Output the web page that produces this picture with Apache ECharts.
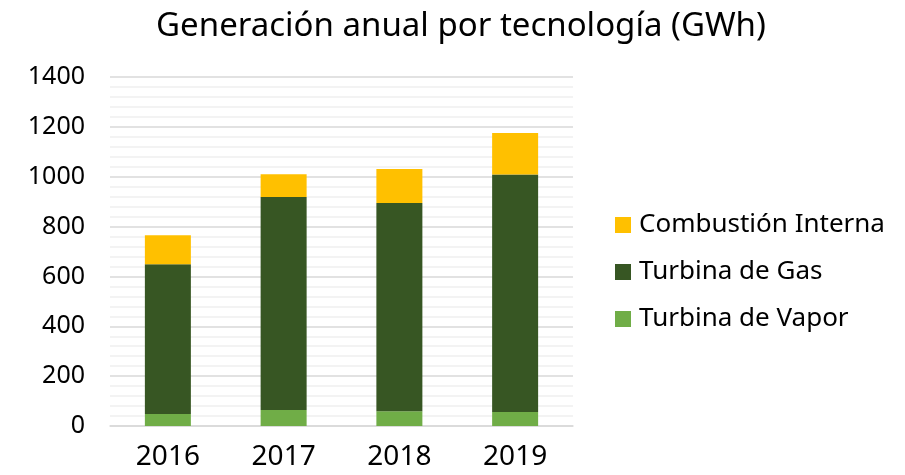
<!DOCTYPE html>
<html><head><meta charset="utf-8">
<script src="https://cdn.jsdelivr.net/npm/echarts@6/dist/echarts.min.js"></script>
<style>html,body{margin:0;padding:0;background:#fff}#c{width:905px;height:475px}</style>
</head><body><div id="c"></div>
<script>
const categories = ['2016','2017','2018','2019'];
const vapor = [48, 64, 59, 56];
const gas = [601, 855, 836, 953];
const combustion = [116, 91, 136, 166];
const yTicks = [0,200,400,600,800,1000,1200,1400];
const FONT = 'Noto Sans';
const chart = echarts.init(document.getElementById('c'));
chart.setOption({
  animation:false,
  title:{text:'Generación anual por tecnología (GWh)', left:456, textAlign:'center', top:5,
    textStyle:{fontFamily:FONT, fontSize:33, fontWeight:'normal', color:'#000'}},
  legend:{orient:'vertical', left:610, top:207, itemWidth:16, itemHeight:16, itemGap:21,
    icon:'rect', data:['Combustión Interna','Turbina de Gas','Turbina de Vapor'],
    textStyle:{fontFamily:FONT, fontSize:26, color:'#000', padding:[0,0,0,3]}},
  grid:{left:110, right:332, top:77, bottom:49},
  xAxis:{type:'category', data:categories, axisTick:{show:false},
    axisLine:{lineStyle:{color:'#d9d9d9', width:1.5}},
    axisLabel:{fontFamily:FONT, fontSize:28, color:'#000', margin:17}},
  yAxis:{type:'value', min:yTicks[0], max:yTicks[yTicks.length-1], interval:200,
    axisLabel:{fontFamily:FONT, fontSize:25, color:'#000', margin:25, formatter:v=>String(v)},
    splitLine:{lineStyle:{color:'#d9d9d9', width:1.5}},
    minorTick:{show:false, splitNumber:5},
    minorSplitLine:{show:true, lineStyle:{color:'#f0f0f0', width:1.5}}},
  series:[
    {name:'Turbina de Vapor', type:'bar', stack:'a', data:vapor, barWidth:46, itemStyle:{color:'#70ad47'}},
    {name:'Turbina de Gas', type:'bar', stack:'a', data:gas, itemStyle:{color:'#375623'}},
    {name:'Combustión Interna', type:'bar', stack:'a', data:combustion, itemStyle:{color:'#ffc000'}}
  ]
});
</script></body></html>
